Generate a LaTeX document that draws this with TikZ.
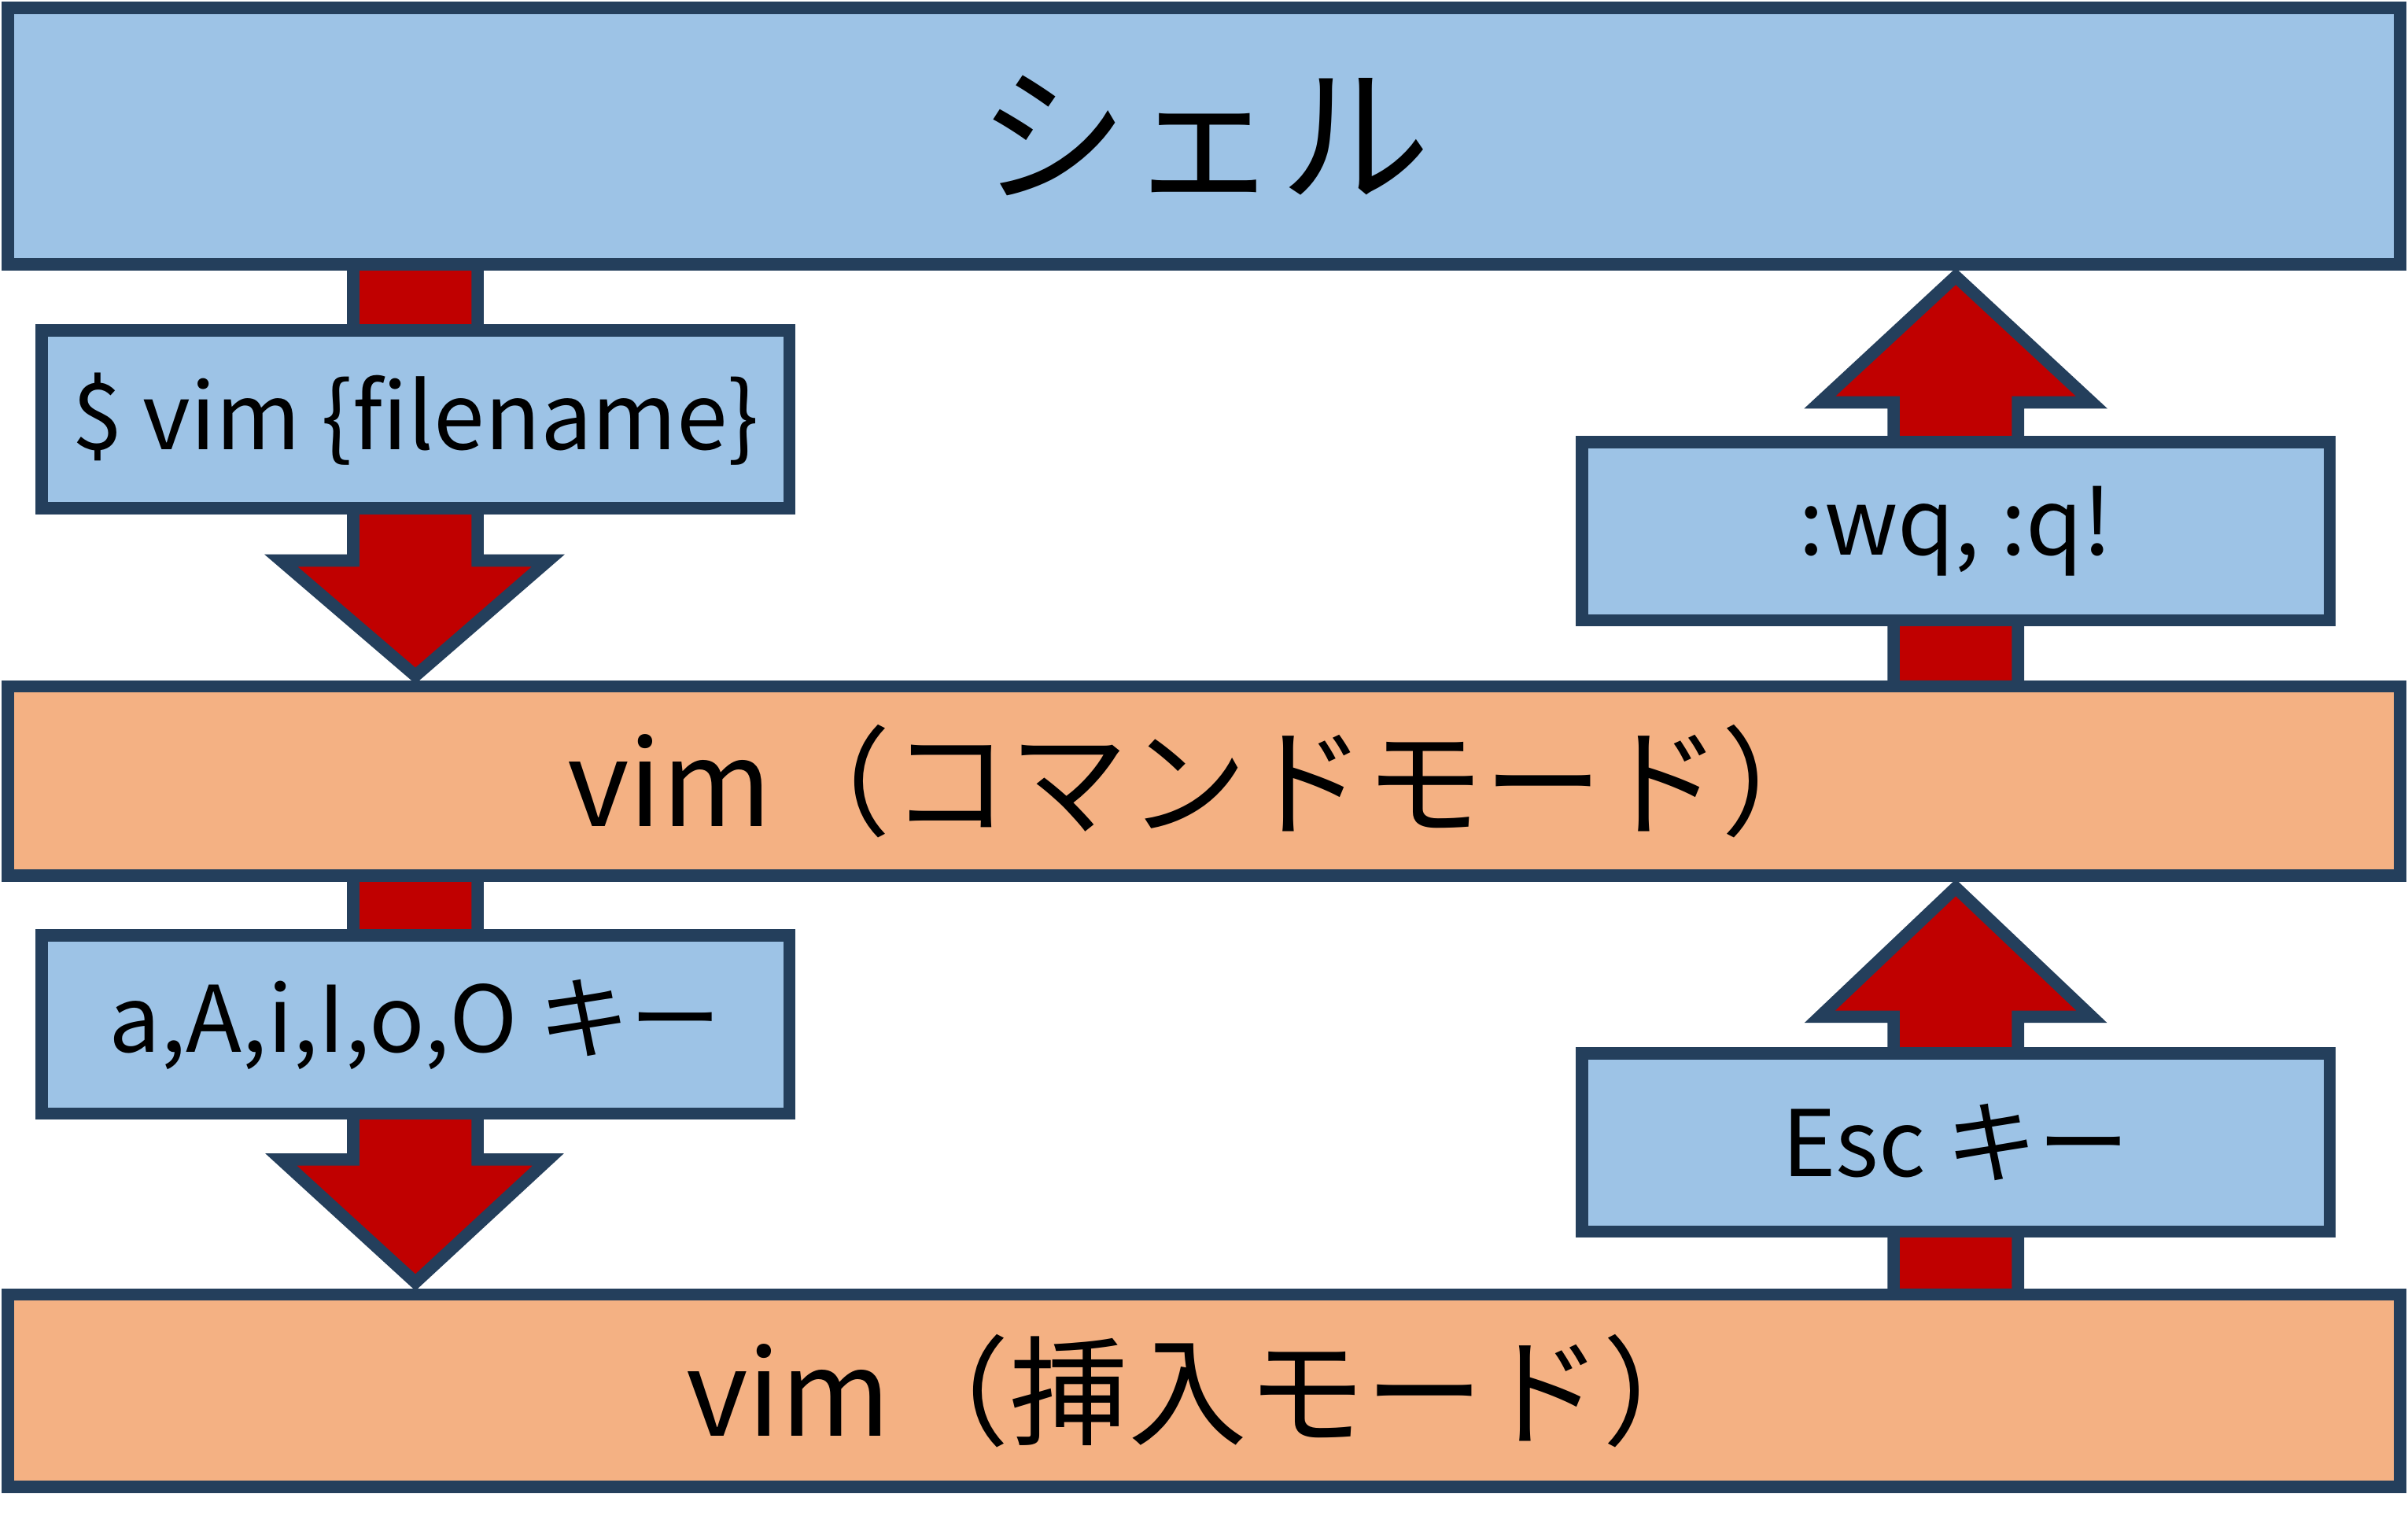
\documentclass[tikz,border=0pt]{standalone}
\usepackage{fontspec}
\setmainfont{Noto Sans CJK JP}
\definecolor{blu}{HTML}{9DC3E6}
\definecolor{ora}{HTML}{F4B183}
\definecolor{edge}{HTML}{243F5C}
\definecolor{arr}{HTML}{C00000}
\begin{document}
\begin{tikzpicture}[
	every node/.style={
		draw=edge
		,line width=0.8mm
		,inner sep=0
	}
	,band/.style={minimum width=15.58cm}
	,lab/.style={fill=blu,minimum width=4.87cm,minimum height=1.16cm,font=\fontsize{17}{20}\selectfont}
	,fat/.style={fill=arr,draw=edge,line width=0.8mm}
]
\useasboundingbox (0,0) rectangle (15.68,-9.94);

% arrows first
\draw[fat] (2.30,-1.72) -- (2.30,-3.65) -- (1.83,-3.65) -- (2.705,-4.40) -- (3.57,-3.65) -- (3.11,-3.65) -- (3.11,-1.72) -- cycle;
\draw[fat] (2.30,-5.70) -- (2.30,-7.55) -- (1.83,-7.55) -- (2.705,-8.35) -- (3.57,-7.55) -- (3.11,-7.55) -- (3.11,-5.70) -- cycle;
\draw[fat] (12.33,-4.47) -- (12.33,-2.62) -- (11.85,-2.62) -- (12.735,-1.80) -- (13.62,-2.62) -- (13.14,-2.62) -- (13.14,-4.47) -- cycle;
\draw[fat] (12.33,-8.43) -- (12.33,-6.62) -- (11.85,-6.62) -- (12.735,-5.78) -- (13.62,-6.62) -- (13.14,-6.62) -- (13.14,-8.43) -- cycle;

% bands
\node[band,fill=blu,minimum height=1.67cm,font=\fontsize{28}{32}\selectfont](shell) at(7.84,-0.885) {シェル};
\node[band,fill=ora,minimum height=1.23cm,font=\fontsize{22}{26}\selectfont](cmd) at(7.84,-5.085) {vim（コマンドモード）};
\node[band,fill=ora,minimum height=1.25cm,font=\fontsize{22}{26}\selectfont](ins) at(7.84,-9.055) {vim（挿入モード）};

% key labels
\node[lab](open) at(2.705,-2.73) {\$ vim \{filename\}};
\node[lab](insk) at(2.705,-6.67) {a,A,i,I,o,O キー};
\node[lab](quit) at(12.735,-3.46) {:wq, :q!};
\node[lab](esc) at(12.735,-7.44) {Esc キー};
\end{tikzpicture}
\end{document}
